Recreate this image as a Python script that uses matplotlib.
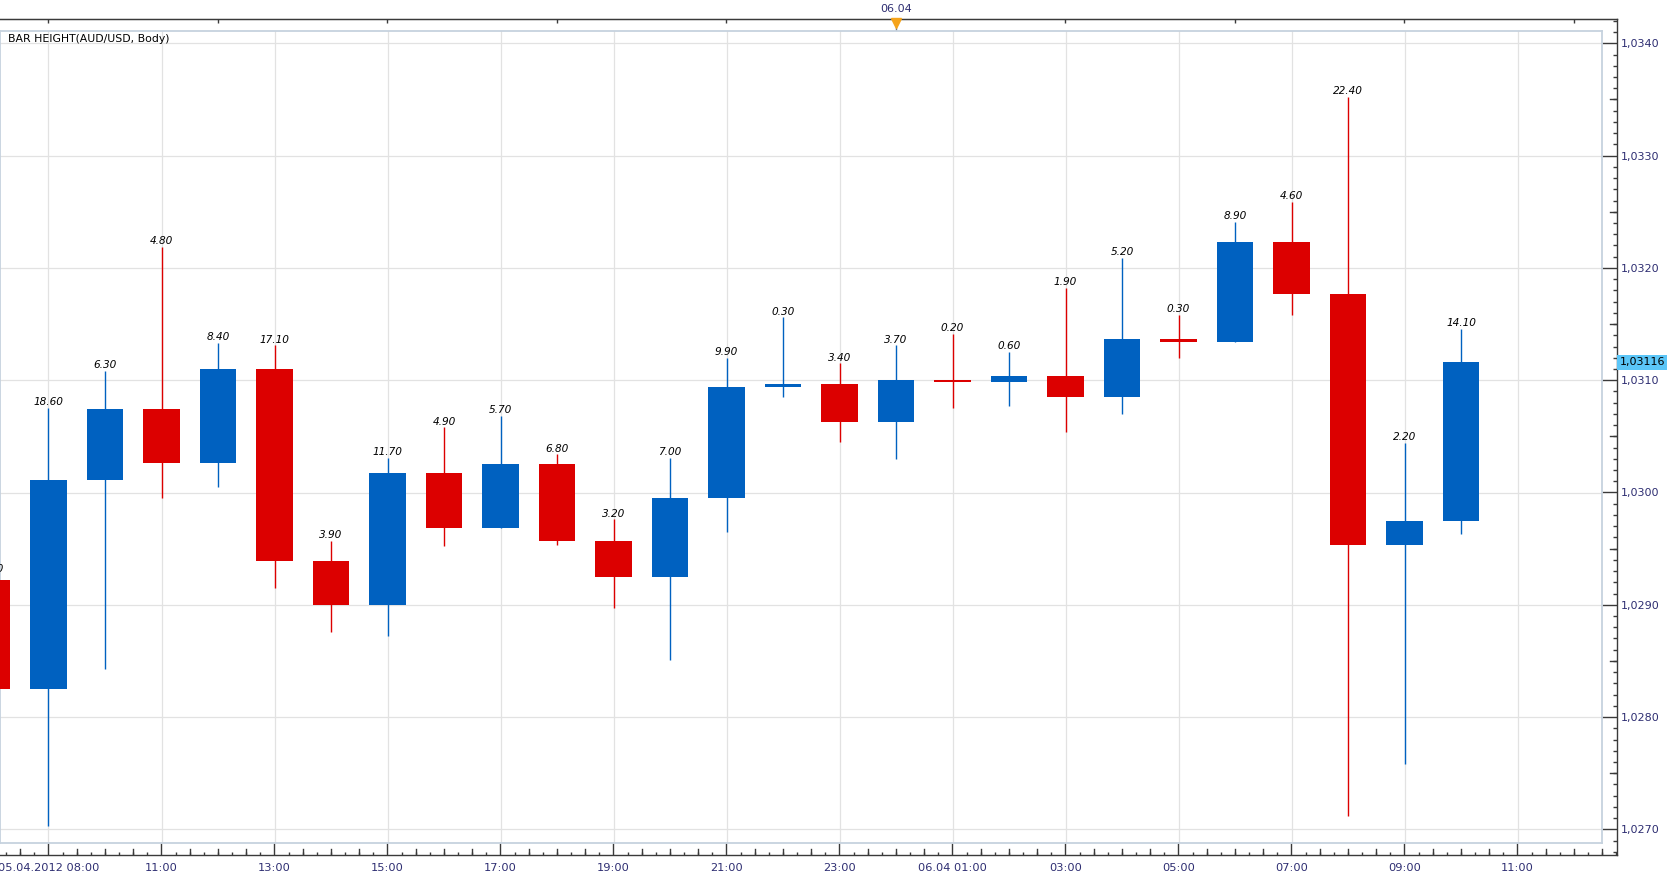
import matplotlib.pyplot as plt
import matplotlib.transforms as mtransforms
from matplotlib.ticker import MultipleLocator, FixedLocator, FuncFormatter
import numpy as np

# hourly AUD/USD candles, index 0 = first full candle, -1 is cut by the left edge
idx = list(range(-1, 26))
opens = [1.02922, 1.02825, 1.03011, 1.03074, 1.03026, 1.03110, 1.02939, 1.02900, 1.03017,
         1.02968, 1.03025, 1.02957, 1.02925, 1.02995, 1.03094, 1.03097, 1.03063, 1.03100,
         1.03098, 1.03104, 1.03085, 1.03137, 1.03134, 1.03223, 1.03177, 1.02953, 1.02975]
closes = [1.02825, 1.03011, 1.03074, 1.03026, 1.03110, 1.02939, 1.02900, 1.03017, 1.02968,
          1.03025, 1.02957, 1.02925, 1.02995, 1.03094, 1.03097, 1.03063, 1.03100, 1.03098,
          1.03104, 1.03085, 1.03137, 1.03134, 1.03223, 1.03177, 1.02953, 1.02975, 1.03116]
highs = [1.02927, 1.03075, 1.03108, 1.03219, 1.03133, 1.03131, 1.02957, 1.03031, 1.03058,
         1.03068, 1.03034, 1.02976, 1.03031, 1.03120, 1.03156, 1.03115, 1.03131, 1.03141,
         1.03125, 1.03182, 1.03209, 1.03158, 1.03241, 1.03259, 1.03352, 1.03044, 1.03146]
lows = [1.02810, 1.02703, 1.02843, 1.02995, 1.03005, 1.02915, 1.02876, 1.02872, 1.02952,
        1.02968, 1.02953, 1.02897, 1.02851, 1.02965, 1.03085, 1.03045, 1.03030, 1.03075,
        1.03077, 1.03054, 1.03070, 1.03120, 1.03134, 1.03158, 1.02712, 1.02758, 1.02963]
bar_heights = [9.70, 18.60, 6.30, 4.80, 8.40, 17.10, 3.90, 11.70, 4.90, 5.70, 6.80, 3.20, 7.00,
               9.90, 0.30, 3.40, 3.70, 0.20, 0.60, 1.90, 5.20, 0.30, 8.90, 4.60, 22.40, 2.20, 14.10]

price_ticks = [1.0270, 1.0280, 1.0290, 1.0300, 1.0310, 1.0320, 1.0330, 1.0340]
time_ticks = list(range(0, 28, 2))
time_labels = ['05.04.2012 08:00', '11:00', '13:00', '15:00', '17:00', '19:00', '21:00',
               '23:00', '06.04 01:00', '03:00', '05:00', '07:00', '09:00', '11:00']
day_mark = 15
day_label = '06.04'
last_price = 1.03116

RED = '#dc0000'
BLUE = '#0061c0'
NAVY = '#2e2e72'
GRID = '#e2e2e2'
DARK = '#3a3a3a'

W, H = 1674, 880
fig = plt.figure(figsize=(W / 100, H / 100), dpi=100)

# pixel layout of the original terminal
x0_px, px_per_bar = 48.5, 56.5
y_ref_px, y_ref, px_per_price = 43.3, 1.0340, 112300.0


def lims(left, right, top, bottom):
    xl = ((left - x0_px) / px_per_bar, (right - x0_px) / px_per_bar)
    yl = (y_ref - (bottom - y_ref_px) / px_per_price, y_ref - (top - y_ref_px) / px_per_price)
    return xl, yl


# outer frame with the scales
ax_out = fig.add_axes([0, (H - 855) / H, 1617 / W, (855 - 19) / H])
xl, yl = lims(0, 1617, 19, 855)
ax_out.set_xlim(xl)
ax_out.set_ylim(yl)
ax_out.spines['left'].set_visible(False)
for s in ['right', 'top', 'bottom']:
    ax_out.spines[s].set_color(DARK)
    ax_out.spines[s].set_linewidth(1.0)

ax_out.yaxis.tick_right()
ax_out.yaxis.set_major_locator(FixedLocator(price_ticks))
ax_out.yaxis.set_major_formatter(FuncFormatter(lambda v, p: f'{v:.4f}'.replace('.', ',')))
ax_out.yaxis.set_minor_locator(MultipleLocator(0.0001))
ax_out.xaxis.set_major_locator(FixedLocator(time_ticks))
ax_out.set_xticklabels(time_labels)
ax_out.xaxis.set_minor_locator(MultipleLocator(0.25))
ax_out.tick_params(axis='y', which='major', direction='in', length=10.8, width=1,
                   color=DARK, labelsize=8, labelcolor=NAVY, pad=3)
ax_out.tick_params(axis='y', which='minor', direction='in', length=2.9, width=1, color=DARK)
ax_out.tick_params(axis='x', which='major', direction='in', length=8.6, width=1,
                   color=DARK, labelsize=8.2, labelcolor=NAVY, pad=6)
ax_out.tick_params(axis='x', which='minor', direction='in', length=2.2, width=1, color=DARK)

# medium ticks (half steps)
tr_y = mtransforms.blended_transform_factory(ax_out.transAxes, ax_out.transData)
for p in price_ticks[:-1]:
    ax_out.plot([1 - 7 / 1617, 1], [p + 0.0005, p + 0.0005], color=DARK, lw=1, transform=tr_y)
tr_x = mtransforms.blended_transform_factory(ax_out.transData, ax_out.transAxes)
for k in np.arange(-0.5, xl[1], 0.5):
    if k % 2 != 0:
        ax_out.plot([k, k], [0, 6 / 836], color=DARK, lw=1, transform=tr_x)

top = ax_out.secondary_xaxis('top')
top.set_xticks(list(range(0, 28, 3)))
top.tick_params(direction='in', length=3, width=1, color=DARK, labeltop=False)
top.spines['top'].set_color(DARK)

# day separator marker
ax_out.plot([day_mark], [1 - 4 / 836], marker='v', markersize=7, color='#f5a31a',
            transform=tr_x, clip_on=False, zorder=5)
ax_out.plot([day_mark, day_mark], [1 - 8 / 836, 1 - 13 / 836], color='#777777', lw=1,
            transform=tr_x, clip_on=False)
fig.text((x0_px + day_mark * px_per_bar) / W, 1 - 8.5 / H, day_label, ha='center',
         va='center', fontsize=8, color=NAVY)

# inner plot area
ax = fig.add_axes([0, (H - 843) / H, 1602 / W, (843 - 31) / H])
xl, yl = lims(0, 1602, 31, 843)
ax.set_xlim(xl)
ax.set_ylim(yl)
for s in ax.spines.values():
    s.set_color('#c6d2de')
    s.set_linewidth(1.3)
ax.set_xticks(time_ticks)
ax.set_yticks(price_ticks)
ax.tick_params(length=0, labelbottom=False, labelleft=False)
ax.grid(True, color=GRID, lw=0.9)
ax.set_axisbelow(True)

colors = [BLUE if c >= o else RED for o, c in zip(opens, closes)]
bottoms = [min(o, c) for o, c in zip(opens, closes)]
bodies = [abs(c - o) for o, c in zip(opens, closes)]

ax.vlines(idx, lows, highs, colors=colors, lw=1.0, zorder=2)
ax.bar(idx, bodies, bottom=bottoms, width=0.64, color=colors, linewidth=0, zorder=3)

# bar height labels, the first one is cut by the left edge like in the terminal
for k, h, v in zip(idx, highs, bar_heights):
    ax.annotate(f'{v:.2f}', (k, h), xytext=(0, 2), textcoords='offset points',
                ha='center', va='baseline', fontsize=7.6, style='italic',
                color='black', annotation_clip=False, zorder=4)

fig.text(8 / W, 1 - 39 / H, 'BAR HEIGHT(AUD/USD, Body)', ha='left', va='center',
         fontsize=7.8, color='black')

# last price marker on the scale
tr_p = mtransforms.blended_transform_factory(fig.transFigure, ax.transData)
fig.text(1619.5 / W, last_price, f'{last_price:.5f}'.replace('.', ','), transform=tr_p,
         ha='left', va='center', fontsize=8, color='black',
         bbox=dict(boxstyle='square,pad=0.22', fc='#5bc6f8', ec='none'))

fig.savefig('out.png', dpi=100)
